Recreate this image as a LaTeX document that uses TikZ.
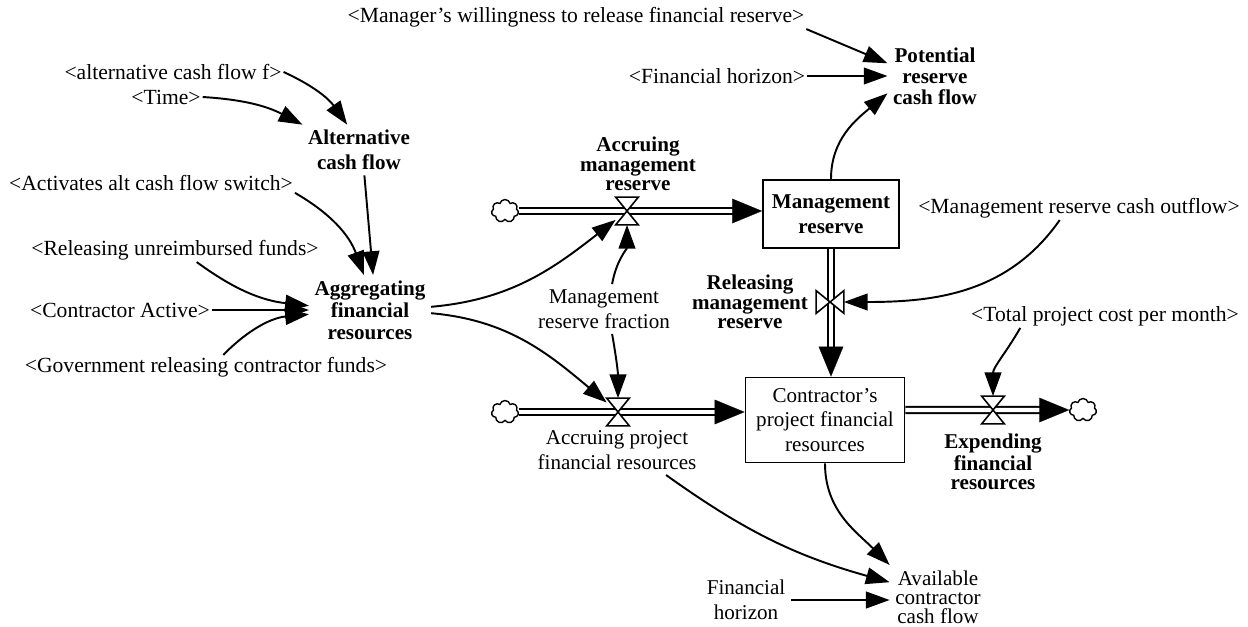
\documentclass[tikz,border=0pt]{standalone}
\usepackage{fontspec}
\setmainfont{Liberation Serif}
\usetikzlibrary{arrows.meta, shapes.symbols}

\begin{document}
\begin{tikzpicture}[
    x=0.02cm, y=0.02cm,
    shadow/.style={font=\fontsize{12.3}{14}\selectfont, inner sep=1pt},
    var/.style={align=center, font=\fontsize{12}{14}\selectfont, inner sep=3pt},
    bvar/.style={align=center, font=\bfseries\fontsize{12}{11.5}\selectfont, inner sep=3pt},
    stock/.style={rectangle, draw, line width=1.1pt, align=center},
    valve/.style={rectangle, inner sep=0pt, minimum width=0.44cm, minimum height=0.54cm},
    source/.style={cloud, cloud puffs=7, cloud ignores aspect, draw, line width=0.8pt, minimum width=0.54cm, minimum height=0.46cm, inner sep=0pt},
    pipe/.style={draw, line width=1.1pt, double distance=2.4pt, shorten >=14pt},
    pipetip/.style={draw=white, line width=0.1pt, -{Triangle[length=17pt, width=14pt, color=black]}},
    infl/.style={line width=1.1pt, -{Triangle[length=13.5pt, width=9.5pt]}},
    valveshape/.style={draw, fill=white, line width=0.9pt}
]
\useasboundingbox (0,0) rectangle (1248,-626);

% shadow variables
\node[shadow] (mgrwill) at (576,-17) {<Manager’s willingness to release financial reserve>};
\node[shadow] (altf) at (173,-72) {<alternative cash flow f>};
\node[shadow] (time) at (166,-97) {<Time>};
\node[shadow] (fhorzs) at (717,-76) {<Financial horizon>};
\node[shadow] (actswitch) at (151,-183) {<Activates alt cash flow switch>};
\node[shadow] (relunr) at (175,-250) {<Releasing unreimbursed funds>};
\node[shadow] (ctractive) at (120,-310) {<Contractor Active>};
\node[shadow] (govrel) at (206,-367) {<Government releasing contractor funds>};
\node[shadow] (mcash) at (1079,-208) {<Management reserve cash outflow>};
\node[shadow] (totcost) at (1105,-316) {<Total project cost per month>};

% auxiliaries
\node[bvar, font=\bfseries\fontsize{12}{12}\selectfont] (potential) at (935,-76) {Potential\\reserve\\cash flow};
\node[bvar, font=\bfseries\fontsize{12}{14}\selectfont] (altcash) at (359,-150) {Alternative\\cash flow};
\node[bvar, font=\bfseries\fontsize{12}{12.5}\selectfont] (aggr) at (370,-310) {Aggregating\\financial\\resources};
\node[var] (mrfrac) at (604,-309) {Management\\reserve fraction};
\node[var] (fhorz) at (746,-600) {Financial\\horizon};
\node[var, font=\fontsize{12}{10.8}\selectfont] (avail) at (938,-597) {Available\\contractor\\cash flow};

% stocks
\node[stock, bvar, font=\bfseries\fontsize{12}{14}\selectfont, minimum width=2.72cm, minimum height=1.36cm] (mres) at (831,-214) {Management\\reserve};
\node[stock, var, minimum width=3.18cm, minimum height=1.7cm] (cpfr) at (825,-420) {Contractor’s\\project financial\\resources};

% sources and sinks
\node[source] (c1) at (505,-211) {};
\node[source] (c2) at (505,-412) {};
\node[source] (c3) at (1083,-410) {};

% valves and their labels
\node[valve] (vacc) at (627,-211) {};
\node[valve] (vproj) at (618,-412) {};
\node[valve] (vexp) at (993,-410) {};
\node[valve, minimum width=0.54cm, minimum height=0.44cm] (vrel) at (830,-302) {};
\node[bvar, font=\bfseries\fontsize{12}{11}\selectfont] (accmr) at (638,-164) {Accruing\\management\\reserve};
\node[bvar, font=\bfseries\fontsize{12}{11}\selectfont] (relmr) at (750,-302) {Releasing\\management\\reserve};
\node[var] (accpfr) at (617,-450) {Accruing project\\financial resources};
\node[bvar, font=\bfseries\fontsize{12}{11}\selectfont] (expfr) at (993,-462) {Expending\\financial\\resources};

% flows
\draw[pipe] (c1.east) -- (c1.east -| mres.west);
\draw[pipetip] (c1.east) -- (c1.east -| mres.west);
\draw[pipe] (c2.east) -- (c2.east -| cpfr.west);
\draw[pipetip] (c2.east) -- (c2.east -| cpfr.west);
\draw[pipe] (cpfr.east |- c3) -- (c3.west);
\draw[pipetip] (cpfr.east |- c3) -- (c3.west);
\draw[pipe] (mres.south) -- (mres.south |- cpfr.north);
\draw[pipetip] (mres.south) -- (mres.south |- cpfr.north);

\foreach \v in {vacc, vproj, vexp}
  \draw[valveshape] (\v.north west) -- (\v.north east) -- (\v.south west) -- (\v.south east) -- cycle;
\draw[valveshape] (vrel.north west) -- (vrel.south west) -- (vrel.north east) -- (vrel.south east) -- cycle;

% links into the reserve side
\draw[infl] (mgrwill.-3.6) -- (potential.165);
\draw[infl] (fhorzs) -- (potential);
\draw[infl] (mres.north) to[out=90, in=220] (potential.200);

% links into alternative cash flow and aggregation
\draw[infl] (altf.east) to[bend left=15] (altcash.115);
\draw[infl] (time.east) to[bend left=12] (altcash.north west);
\draw[infl] (altcash.-78) -- (aggr.85);
\draw[infl] (actswitch.south east) to[bend left=20] (aggr.100);
\draw[infl] (relunr.-29) to[bend right=15] (aggr.176);
\draw[infl] (ctractive.east) -- (aggr.west);
\draw[infl] (govrel.35) to[bend left=20] (aggr.184);

% links to the valves
\draw[infl] (aggr.3) to[out=5, in=218] (vacc);
\draw[infl] (aggr.-3) to[out=-5, in=140] (vproj);
\draw[infl] (mrfrac.72) to[out=80, in=-90] (vacc.south);
\draw[infl] (mrfrac.-72) to[out=-80, in=90] (vproj.north);
\draw[infl] (mcash.212) to[out=235, in=0] (vrel.east);
\draw[infl] (totcost.188) to[out=-120, in=90] (vexp.north);

% available contractor cash flow
\draw[infl] (cpfr.south) to[out=-90, in=135] (avail.north west);
\draw[infl] (accpfr.-27) to[bend right=10] (avail.163);
\draw[infl] (fhorz.east) -- (fhorz.east -| avail.west);

\end{tikzpicture}
\end{document}
